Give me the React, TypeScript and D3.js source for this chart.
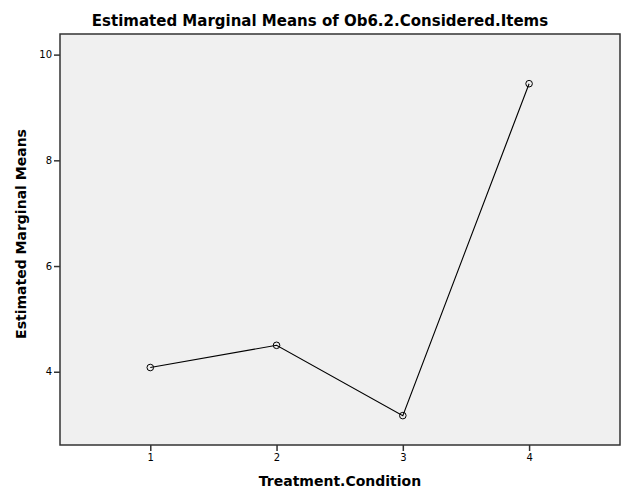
import React, { useEffect, useRef } from "react";
import * as d3 from "d3";

const categories = [1, 2, 3, 4];
const means = [4.08, 4.5, 3.17, 9.45];
const yTicks = [4, 6, 8, 10];
const title = "Estimated Marginal Means of Ob6.2.Considered.Items";
const xTitle = "Treatment.Condition";
const yTitle = "Estimated Marginal Means";

export default function App() {
  const ref = useRef<SVGSVGElement>(null);
  useEffect(() => {
    const W = 627, H = 502;
    const m = { left: 60, right: 7, top: 34, bottom: 57 };
    const svg = d3.select(ref.current);
    svg.selectAll("*").remove();
    svg.append("rect").attr("width", W).attr("height", H).attr("fill", "#fff");
    const x = d3.scaleLinear().domain([0.285, 4.72]).range([m.left, W - m.right]);
    const y = d3.scaleLinear().domain([2.614, 10.39]).range([H - m.bottom, m.top]);
    const font = "'DejaVu Sans', sans-serif";

    svg.append("rect")
      .attr("x", m.left).attr("y", m.top)
      .attr("width", W - m.left - m.right).attr("height", H - m.top - m.bottom)
      .attr("fill", "#f0f0f0").attr("stroke", "#333").attr("stroke-width", 1.5);

    const xa = svg.append("g").attr("transform", `translate(0,${H - m.bottom})`)
      .call(d3.axisBottom(x).tickValues(categories).tickSize(6).tickPadding(3).tickFormat(d3.format("d")));
    xa.select(".domain").remove();
    xa.selectAll("line").attr("stroke", "#333").attr("stroke-width", 1.5);
    xa.selectAll("text").attr("font-family", font).attr("font-size", 10).attr("fill", "#000");

    const ya = svg.append("g").attr("transform", `translate(${m.left},0)`)
      .call(d3.axisLeft(y).tickValues(yTicks).tickSize(6).tickPadding(2).tickFormat(d3.format("d")));
    ya.select(".domain").remove();
    ya.selectAll("line").attr("stroke", "#333").attr("stroke-width", 1.5);
    ya.selectAll("text").attr("font-family", font).attr("font-size", 10).attr("fill", "#000");

    const pts = categories.map((c, i) => [x(c), y(means[i])] as [number, number]);
    svg.append("path").attr("d", d3.line()(pts)).attr("fill", "none").attr("stroke", "#000").attr("stroke-width", 1.1);
    svg.selectAll("circle.p").data(pts).enter().append("circle")
      .attr("cx", d => d[0]).attr("cy", d => d[1]).attr("r", 3.3)
      .attr("fill", "none").attr("stroke", "#000").attr("stroke-width", 1);

    svg.append("text").attr("x", 320).attr("y", 26).attr("text-anchor", "middle")
      .attr("font-family", font).attr("font-weight", "bold").attr("font-size", 15).text(title);
    svg.append("text").attr("x", 340).attr("y", 486).attr("text-anchor", "middle")
      .attr("font-family", font).attr("font-weight", "bold").attr("font-size", 14).text(xTitle);
    svg.append("text").attr("transform", `translate(26,234) rotate(-90)`).attr("text-anchor", "middle")
      .attr("font-family", font).attr("font-weight", "bold").attr("font-size", 14).text(yTitle);
  }, []);
  return <svg ref={ref} width={627} height={502} style={{ position: "absolute", left: 0, top: 0 }} />;
}
